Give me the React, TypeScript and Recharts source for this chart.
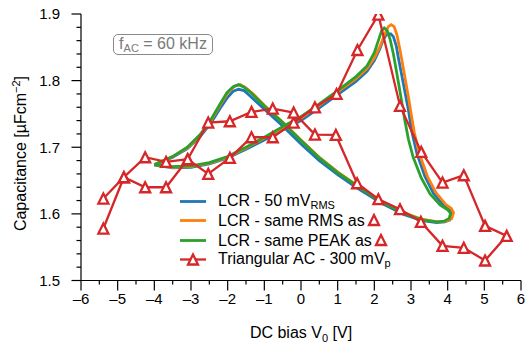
import React from 'react';
import { LineChart, Line, XAxis, YAxis, Legend } from 'recharts';

const FONT = '"Liberation Sans", Arial, Helvetica, sans-serif';

// ---- axis ticks ----
const X_MAJOR = [-6, -5, -4, -3, -2, -1, 0, 1, 2, 3, 4, 5, 6];
const X_TICKS = [-6, -5.5, -5, -4.5, -4, -3.5, -3, -2.5, -2, -1.5, -1, -0.5, 0, 0.5, 1, 1.5, 2, 2.5, 3, 3.5, 4, 4.5, 5, 5.5, 6];
const Y_MAJOR = [1.5, 1.6, 1.7, 1.8, 1.9];
const Y_TICKS = [1.5, 1.52, 1.54, 1.56, 1.58, 1.6, 1.62, 1.64, 1.66, 1.68, 1.7, 1.72, 1.74, 1.76, 1.78, 1.8, 1.82, 1.84, 1.86, 1.88, 1.9];

// ---- series: [DC bias V0, capacitance] in sweep order ----
const LCR_50MV: number[][] = [
  [-4.0, 1.673], [-3.5, 1.669], [-3.0, 1.670], [-2.5, 1.675], [-2.0, 1.684], [-1.5, 1.697], [-1.0, 1.711],
  [-0.5, 1.726], [0.0, 1.740], [0.5, 1.759], [1.0, 1.779], [1.5, 1.799], [1.8, 1.814], [2.0, 1.830],
  [2.15, 1.848], [2.25, 1.862], [2.34, 1.870], [2.45, 1.870], [2.52, 1.866], [2.6, 1.852], [2.65, 1.836],
  [2.72, 1.816], [2.79, 1.796], [2.86, 1.776], [2.93, 1.756], [3.02, 1.724], [3.16, 1.691], [3.38, 1.656],
  [3.61, 1.631], [3.88, 1.613], [4.05, 1.606], [4.11, 1.600],
  [4.06, 1.591], [3.92, 1.588], [3.7, 1.587], [3.3, 1.590], [2.8, 1.599], [2.2, 1.616], [1.5, 1.640],
  [1.0, 1.659], [0.5, 1.680], [0.0, 1.705], [-0.5, 1.732], [-1.0, 1.757], [-1.35, 1.775], [-1.55, 1.785],
  [-1.7, 1.787], [-1.85, 1.784], [-2.0, 1.775], [-2.2, 1.759], [-2.45, 1.737], [-2.75, 1.716],
  [-3.1, 1.698], [-3.5, 1.685], [-4.0, 1.673],
];

const LCR_SAME_RMS: number[][] = [
  [-4.0, 1.674], [-3.5, 1.670], [-3.0, 1.671], [-2.5, 1.676], [-2.0, 1.685], [-1.5, 1.699], [-1.0, 1.714],
  [-0.5, 1.729], [0.0, 1.744], [0.5, 1.763], [1.0, 1.783], [1.5, 1.803], [1.8, 1.818], [2.0, 1.834],
  [2.15, 1.851], [2.28, 1.869], [2.38, 1.881], [2.46, 1.884], [2.54, 1.881], [2.62, 1.868], [2.7, 1.846],
  [2.78, 1.822], [2.86, 1.797], [2.94, 1.772], [3.01, 1.748], [3.09, 1.722], [3.23, 1.690], [3.45, 1.656],
  [3.68, 1.632], [3.95, 1.614], [4.1, 1.608], [4.16, 1.602],
  [4.11, 1.593], [3.96, 1.589], [3.72, 1.588], [3.3, 1.592], [2.8, 1.602], [2.2, 1.619], [1.5, 1.644],
  [1.0, 1.663], [0.5, 1.685], [0.0, 1.711], [-0.5, 1.738], [-1.0, 1.763], [-1.3, 1.780], [-1.5, 1.789],
  [-1.65, 1.794], [-1.8, 1.792], [-1.98, 1.783], [-2.2, 1.764], [-2.45, 1.740], [-2.75, 1.718],
  [-3.1, 1.699], [-3.5, 1.686], [-4.0, 1.674],
];

const LCR_SAME_PEAK: number[][] = [
  [-4.0, 1.674], [-3.5, 1.671], [-3.0, 1.672], [-2.5, 1.677], [-2.0, 1.686], [-1.5, 1.700], [-1.0, 1.715],
  [-0.5, 1.731], [0.0, 1.746], [0.5, 1.765], [1.0, 1.785], [1.5, 1.806], [1.8, 1.822], [2.0, 1.842],
  [2.12, 1.862], [2.2, 1.875], [2.27, 1.879], [2.35, 1.875], [2.43, 1.862], [2.52, 1.840], [2.6, 1.815],
  [2.68, 1.790], [2.76, 1.764], [2.84, 1.738], [2.93, 1.712], [3.06, 1.685], [3.28, 1.654], [3.52, 1.630],
  [3.8, 1.613], [4.0, 1.606], [4.08, 1.601],
  [4.04, 1.593], [3.9, 1.589], [3.7, 1.588], [3.3, 1.591], [2.8, 1.601], [2.2, 1.618], [1.5, 1.643],
  [1.0, 1.662], [0.5, 1.684], [0.0, 1.710], [-0.5, 1.737], [-1.0, 1.762], [-1.35, 1.781], [-1.55, 1.790],
  [-1.7, 1.794], [-1.85, 1.791], [-2.02, 1.782], [-2.22, 1.764], [-2.45, 1.742], [-2.75, 1.719],
  [-3.1, 1.700], [-3.5, 1.686], [-4.0, 1.674],
];

const TRIANGULAR_AC: number[][] = [
  [-5.39, 1.623], [-4.83, 1.655], [-4.25, 1.640], [-3.68, 1.640], [-3.09, 1.682], [-2.53, 1.660],
  [-1.94, 1.684], [-1.35, 1.715], [-0.77, 1.715], [-0.2, 1.737], [0.38, 1.760], [0.97, 1.780],
  [1.54, 1.846], [2.11, 1.899], [2.7, 1.762], [3.28, 1.693], [3.86, 1.647], [4.44, 1.658],
  [5.02, 1.582], [5.61, 1.567], [5.02, 1.530], [4.44, 1.549], [3.86, 1.552], [3.27, 1.588],
  [2.7, 1.607], [2.11, 1.622], [1.53, 1.646], [0.95, 1.7185], [0.38, 1.719], [-0.2, 1.752],
  [-0.77, 1.758], [-1.35, 1.753], [-1.94, 1.739], [-2.53, 1.737], [-3.09, 1.682], [-3.68, 1.678],
  [-4.25, 1.685], [-4.83, 1.655], [-5.39, 1.578],
];

const BLUE = '#1f77b4';
const ORANGE = '#ff7f0e';
const GREEN = '#2ca02c';
const RED = '#d62728';

const toData = (pts: number[][]) => pts.map(([x, y]) => ({ x, y }));

const fmtX = (v: number) => (v < 0 ? '\u2013' + Math.abs(v) : String(v));
const isIn = (arr: number[], v: number) => arr.some((m) => Math.abs(m - v) < 1e-6);

const XTick = (props: any) => {
  const { x, y, payload } = props;
  const major = isIn(X_MAJOR, payload.value);
  return (
    <g>
      <line x1={x} x2={x} y1={y} y2={y + (major ? 10 : 4)} stroke="#000" strokeWidth={1.2} />
      {major && (
        <text x={x} y={y + 23.5} textAnchor="middle" fontSize={15} fontFamily={FONT} fill="#000">
          {fmtX(payload.value)}
        </text>
      )}
    </g>
  );
};

const YTick = (props: any) => {
  const { x, y, payload } = props;
  const major = isIn(Y_MAJOR, payload.value);
  return (
    <g>
      <line x1={x} x2={x - (major ? 9.5 : 4.5)} y1={y} y2={y} stroke="#000" strokeWidth={1.2} />
      {major && (
        <text x={x - 21} y={y + 5.3} textAnchor="end" fontSize={15} fontFamily={FONT} fill="#000">
          {payload.value.toFixed(1)}
        </text>
      )}
    </g>
  );
};

const TRI = 5.0;
const triPath = (cx: number, cy: number, s: number) =>
  `M${cx},${cy - s}L${cx - s},${cy + s}L${cx + s},${cy + s}Z`;

const TriDot = (props: any) => {
  const { cx, cy, index } = props;
  if (cx == null || cy == null) return <g key={`t-${index}`} />;
  return (
    <path key={`t-${index}`} d={triPath(cx, cy, TRI)} fill="#fff" stroke={RED} strokeWidth={2.3} />
  );
};

const InlineTri = () => (
  <svg width={16} height={16} style={{ display: 'inline-block', verticalAlign: '-2px', marginLeft: 1 }}>
    <path d={triPath(8, 8, TRI)} fill="#fff" stroke={RED} strokeWidth={2.3} />
  </svg>
);

const LEGEND_ROWS = [
  { color: BLUE, main: 'LCR - 50 mV', sub: 'RMS', marker: false, tri: false },
  { color: ORANGE, main: 'LCR - same RMS as', sub: '', marker: false, tri: true },
  { color: GREEN, main: 'LCR - same PEAK as', sub: '', marker: false, tri: true },
  { color: RED, main: 'Triangular AC - 300 mV', sub: 'p', marker: true, tri: false },
];

const LegendContent = () => (
  <div style={{ fontFamily: FONT, fontSize: 16, color: '#000' }}>
    {LEGEND_ROWS.map((r, i) => (
      <div key={i} style={{ display: 'flex', alignItems: 'center', height: 19.3, whiteSpace: 'nowrap' }}>
        <svg width={26} height={19} style={{ flex: 'none', overflow: 'visible' }}>
          <line x1={0} x2={26} y1={9.5} y2={9.5} stroke={r.color} strokeWidth={r.marker ? 2.3 : 2.8} />
          {r.marker && <path d={triPath(13, 9.5, TRI)} fill="#fff" stroke={RED} strokeWidth={2.3} />}
        </svg>
        <span style={{ marginLeft: 12, lineHeight: '19.3px' }}>
          {r.main}
          {r.sub && <span style={{ fontSize: 11, position: 'relative', top: 3 }}>{r.sub}</span>}
          {r.tri && <InlineTri />}
        </span>
      </div>
    ))}
  </div>
);

const XTitle = () => (
  <text x={301} y={338} textAnchor="middle" fontSize={16} fontFamily={FONT} fill="#000">
    DC bias V<tspan dy={4} fontSize={11}>0</tspan>
    <tspan dy={-4}> [V]</tspan>
  </text>
);

const YTitle = () => (
  <text
    x={25.5}
    y={153.5}
    transform="rotate(-90, 25.5, 153.5)"
    textAnchor="middle"
    fontSize={16}
    fontFamily={FONT}
    fill="#000"
  >
    Capacitance [µFcm<tspan dy={-6} fontSize={11}>−2</tspan>
    <tspan dy={6}>]</tspan>
  </text>
);

export default function App() {
  return (
    <div style={{ position: 'absolute', left: 0, top: 0, width: 530, height: 348, background: '#fff', fontFamily: FONT }}>
      <LineChart width={530} height={348} margin={{ top: 14, right: 9, left: 0, bottom: 0 }}>
        <XAxis
          dataKey="x"
          type="number"
          domain={[-6, 6]}
          ticks={X_TICKS}
          interval={0}
          tickSize={0}
          tickMargin={0}
          tickLine={false}
          tick={<XTick />}
          axisLine={{ stroke: '#000', strokeWidth: 1.2 }}
          height={67.5}
          allowDataOverflow
          label={<XTitle />}
        />
        <YAxis
          type="number"
          domain={[1.5, 1.9]}
          ticks={Y_TICKS}
          interval={0}
          tickSize={0}
          tickMargin={0}
          tickLine={false}
          tick={<YTick />}
          axisLine={{ stroke: '#000', strokeWidth: 1.2 }}
          width={81}
          allowDataOverflow
          label={<YTitle />}
        />
        <Line data={toData(LCR_50MV)} dataKey="y" stroke={BLUE} strokeWidth={2.8} dot={false} isAnimationActive={false} type="linear" />
        <Line data={toData(LCR_SAME_RMS)} dataKey="y" stroke={ORANGE} strokeWidth={2.8} dot={false} isAnimationActive={false} type="linear" />
        <Line data={toData(LCR_SAME_PEAK)} dataKey="y" stroke={GREEN} strokeWidth={2.8} dot={false} isAnimationActive={false} type="linear" />
        <Line data={toData(TRIANGULAR_AC)} dataKey="y" stroke={RED} strokeWidth={2.3} dot={<TriDot />} isAnimationActive={false} type="linear" />
        <Legend
          layout="vertical"
          align="center"
          verticalAlign="middle"
          content={<LegendContent />}
          wrapperStyle={{ left: 180, top: 192, width: 'auto' }}
        />
      </LineChart>
      <div
        style={{
          position: 'absolute',
          left: 113,
          top: 34,
          width: 100,
          height: 21,
          boxSizing: 'border-box',
          border: '1.3px solid #8a8a8a',
          borderRadius: 5,
          color: '#7a7a7a',
          fontSize: 16,
          lineHeight: '18px',
          textAlign: 'center',
          whiteSpace: 'nowrap',
        }}
      >
        f<span style={{ fontSize: 11, position: 'relative', top: 3 }}>AC</span> = 60 kHz
      </div>
    </div>
  );
}
